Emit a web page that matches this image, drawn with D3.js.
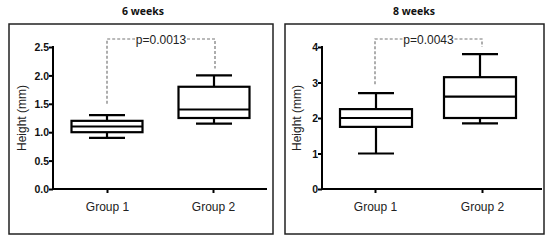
<!DOCTYPE html>
<html><head><meta charset="utf-8">
<script src="https://cdn.jsdelivr.net/npm/d3@7"></script>
<style>body{margin:0;background:#fff}svg{display:block}</style>
</head><body><svg id="c" width="550" height="250"></svg>
<script>
const categories = ["Group 1", "Group 2"];
const panelTitles = ["6 weeks", "8 weeks"];
// [whiskerLow, Q1, median, Q3, whiskerHigh]
const boxes6 = [[0.9, 1.0, 1.1, 1.2, 1.3], [1.15, 1.25, 1.4, 1.8, 2.0]];
const boxes8 = [[1.0, 1.75, 2.0, 2.25, 2.7], [1.85, 2.0, 2.6, 3.15, 3.8]];
const ticks6 = [0, 0.5, 1.0, 1.5, 2.0, 2.5];
const ticks8 = [0, 1, 2, 3, 4];
const pLabels = ["p=0.0013", "p=0.0043"];
// bracket leg ends (data units): [left, right]
const bracketLegs6 = [1.5, 2.12];
const bracketLegs8 = [2.95, 4.0];

const svg = d3.select("#c");

function panel(cfg) {
  const g = svg.append("g");
  g.append("rect").attr("x", cfg.fx).attr("y", 24).attr("width", cfg.fw).attr("height", 210)
    .attr("fill", "none").attr("stroke", "#222").attr("stroke-width", 1.5);
  g.append("text").attr("x", cfg.titleX).attr("y", 15).attr("text-anchor", "middle")
    .attr("font-family", "Open Sans, DejaVu Sans, sans-serif").attr("font-weight", "bold")
    .attr("font-size", 10.5).attr("fill", "#111").text(cfg.title);

  const y = d3.scaleLinear().domain(cfg.domain).range([189, 47]);
  const x = d3.scalePoint().domain(categories).range([cfg.g1, cfg.g2]);

  const yAxis = g.append("g").attr("transform", `translate(${cfg.ax},0)`)
    .call(d3.axisLeft(y).tickValues(cfg.ticks).tickFormat(cfg.fmt).tickSize(4).tickSizeOuter(0));
  yAxis.select(".domain").attr("stroke", "#000").attr("stroke-width", 2).attr("d", `M0,${y(cfg.domain[0])+1}V${y(cfg.domain[1])-1}`);
  yAxis.selectAll(".tick line").attr("stroke", "#000").attr("stroke-width", 2);
  yAxis.selectAll(".tick text").attr("font-family", "Liberation Sans, Arial, sans-serif")
    .attr("font-weight", "bold").attr("font-size", 10.5).attr("fill", "#111").attr("x", -4).attr("dy", "0.35em");

  const xAxis = g.append("g").attr("transform", `translate(0,189)`)
    .call(d3.axisBottom(x).tickSize(4).tickSizeOuter(0));
  xAxis.select(".domain").attr("stroke", "#000").attr("stroke-width", 2).attr("d", `M${cfg.ax},0H${cfg.xEnd}`);
  xAxis.selectAll(".tick line").attr("stroke", "#000").attr("stroke-width", 2);
  xAxis.selectAll(".tick text").attr("font-family", "Liberation Sans, Arial, sans-serif")
    .attr("font-size", 12).attr("fill", "#222").attr("y", 13).attr("dy", "0.71em");

  g.append("text").attr("transform", `translate(${cfg.ylabX},118) rotate(-90)`)
    .attr("text-anchor", "middle").attr("font-family", "Liberation Sans, Arial, sans-serif")
    .attr("font-size", 12).attr("fill", "#222").text("Height (mm)");

  const bw = cfg.bw, cw = 18;
  cfg.data.forEach((d, i) => {
    const cx = x(categories[i]) + cfg.boxOff[i];
    const bg = g.append("g").attr("stroke", "#000").attr("stroke-width", 2.2).attr("fill", "none");
    bg.append("line").attr("x1", cx).attr("x2", cx).attr("y1", y(d[0])).attr("y2", y(d[1]));
    bg.append("line").attr("x1", cx).attr("x2", cx).attr("y1", y(d[3])).attr("y2", y(d[4]));
    bg.append("line").attr("x1", cx - cw).attr("x2", cx + cw).attr("y1", y(d[0])).attr("y2", y(d[0]));
    bg.append("line").attr("x1", cx - cw).attr("x2", cx + cw).attr("y1", y(d[4])).attr("y2", y(d[4]));
    bg.append("rect").attr("x", cx - bw / 2).attr("width", bw).attr("y", y(d[3])).attr("height", y(d[1]) - y(d[3]));
    bg.append("line").attr("x1", cx - bw / 2).attr("x2", cx + bw / 2).attr("y1", y(d[2])).attr("y2", y(d[2]));
  });

  const bx1 = x(categories[0]), bx2 = x(categories[1]) + cfg.brOff, top = 39;
  const mid = (bx1 + bx2) / 2 + cfg.pOff;
  const tw = 50;
  const bl = g.append("g").attr("stroke", "#777").attr("stroke-width", 1.2).attr("fill", "none").attr("stroke-dasharray", "3,2");
  bl.append("path").attr("d", `M${bx1},${y(cfg.legs[0])}V${top}H${mid - tw / 2 - 1}`);
  bl.append("path").attr("d", `M${mid + tw / 2 + 1},${top}H${bx2}V${y(cfg.legs[1])}`);
  g.append("text").attr("x", mid).attr("y", top + 4.5).attr("text-anchor", "middle")
    .attr("font-family", "Liberation Sans, Arial, sans-serif").attr("font-size", 12).attr("fill", "#222").text(cfg.p);
}

panel({fx: 9, fw: 264, title: panelTitles[0], titleX: 143, domain: [0, 2.5], ticks: ticks6, fmt: d3.format(".1f"),
  ax: 53, xEnd: 267, g1: 107, g2: 213, ylabX: 26, bw: 71, boxOff: [0, 1], data: boxes6,
  legs: bracketLegs6, p: pLabels[0], brOff: 2, pOff: 0});
panel({fx: 285, fw: 259, title: panelTitles[1], titleX: 414, domain: [0, 4], ticks: ticks8, fmt: d3.format("d"),
  ax: 322, xEnd: 542, g1: 375, g2: 482, ylabX: 301, bw: 72, boxOff: [1, -2], data: boxes8,
  legs: bracketLegs8, p: pLabels[1], brOff: 0, pOff: 0});
</script></body></html>
